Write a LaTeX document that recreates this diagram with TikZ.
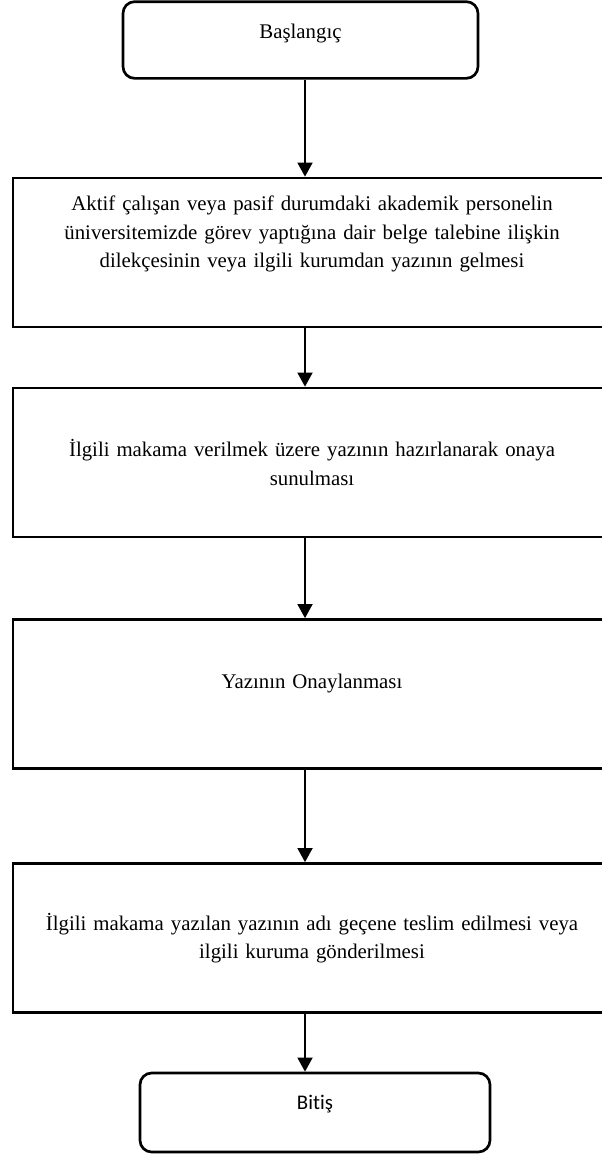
\documentclass[tikz,border=0pt]{standalone}
\usepackage{fontspec}
\setmainfont[Ligatures=NoCommon]{Liberation Serif}
\newfontfamily\calibri[Ligatures=NoCommon]{Carlito}
\usetikzlibrary{arrows.meta}

\begin{document}
\begin{tikzpicture}
  [x=0.6pt,y=-0.6pt,
   every node/.style={draw,line width=1.6pt,font=\fontsize{12.5}{17}\selectfont},
   terminal/.style={rounded corners=7pt,minimum height=46pt},
   process/.style={minimum width=358.8pt,minimum height=89.4pt,text width=340pt,align=center},
   arr/.style={line width=1.2pt,-{Triangle[length=8.5pt,width=9pt]}}]
  \useasboundingbox (0,0) rectangle (602,1155);
  \coordinate (axis) at (305,0);
  \node[terminal,minimum width=213pt,text depth=10.8pt] (n0) at (300.5,40) {Başlangıç};
  \node[process,text depth=59pt] (n1) at (312,252.5) {Aktif çalışan veya pasif durumdaki akademik personelin\\
    üniversitemizde görev yaptığına dair belge talebine ilişkin\\
    dilekçesinin veya ilgili kurumdan yazının gelmesi};
  \node[process] (n2) at (312,462.5) {İlgili makama verilmek üzere yazının hazırlanarak onaya\\ sunulması};
  \node[process,text depth=15.6pt] (n3) at (312,694) {Yazının Onaylanması};
  \node[process] (n4) at (312,938) {İlgili makama yazılan yazının adı geçene teslim edilmesi veya\\ ilgili kuruma gönderilmesi};
  \node[terminal,minimum width=210pt,minimum height=47.4pt,text depth=12.6pt,font=\calibri\fontsize{12.5}{15}\selectfont] (n5) at (315,1112.5) {Bitiş};

  \foreach \from/\to in {n0/n1,n1/n2,n2/n3,n3/n4,n4/n5}
    \draw[arr] (\from.south -| axis) -- (\to.north -| axis);
\end{tikzpicture}
\end{document}
